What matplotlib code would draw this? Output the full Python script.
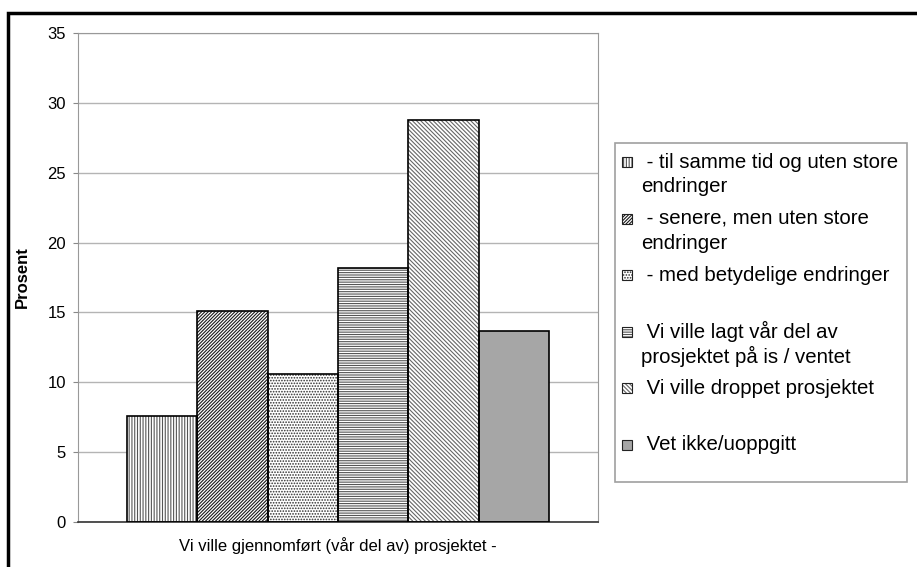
import matplotlib
matplotlib.use("Agg")
import matplotlib.pyplot as plt
from matplotlib.patches import Rectangle
import numpy as np

# Verdier lest av figuren (prosent)
kategorier = [
    " - til samme tid og uten store\nendringer",
    " - senere, men uten store\nendringer",
    " - med betydelige endringer",
    " Vi ville lagt vår del av\nprosjektet på is / ventet",
    " Vi ville droppet prosjektet",
    " Vet ikke/uoppgitt",
]
verdier = [7.6, 15.1, 10.6, 18.2, 28.8, 13.7]
y_ticks = [0, 5, 10, 15, 20, 25, 30, 35]
x_tittel = "Vi ville gjennomført (vår del av) prosjektet -"
y_tittel = "Prosent"

# Stil for hver stolpe
monstre = ["||||||", "//////////", "......", "-------", "\\\\\\\\\\\\\\\\", ""]
monsterfarger = ["#555555", "#1a1a1a", "#2e2e2e", "#555555", "#666666", "#a6a6a6"]
fyllfarger = ["white", "white", "white", "white", "white", "#a6a6a6"]

W, H = 917, 567
plt.rcParams["font.family"] = ["Liberation Sans", "DejaVu Sans"]
plt.rcParams["hatch.linewidth"] = 0.8


def px(x, y):
    """Piksel (fra øvre venstre hjørne) til figurkoordinater."""
    return x / W, 1 - y / H


fig = plt.figure(figsize=(W / 100, H / 100), dpi=100)
ax = fig.add_axes([78 / W, 1 - 522 / H, (598 - 78) / W, (522 - 33) / H])

x = np.arange(len(verdier))
# mønster først, så svart kant over
ax.bar(x, verdier, width=1.0, color=fyllfarger, edgecolor=monsterfarger,
       hatch=monstre, linewidth=0, zorder=2)
ax.bar(x, verdier, width=1.0, fill=False, edgecolor="black", linewidth=1.2, zorder=3)

ax.set_xlim(-0.5 - 0.698, len(verdier) - 0.5 + 0.698)
ax.set_ylim(0, 35)
ax.set_yticks(y_ticks)
ax.set_xticks([])
ax.tick_params(axis="y", direction="out", length=3.6, color="#888888",
               labelsize=12, pad=5)
ax.yaxis.grid(True, color="#b4b4b4", linewidth=1)
ax.set_axisbelow(True)
for side in ["left", "top", "right"]:
    ax.spines[side].set_color("#999999")
ax.spines["bottom"].set_color("#333333")
ax.spines["bottom"].set_linewidth(1.2)

ax.set_xlabel(x_tittel, fontsize=12, labelpad=11)
ax.set_ylabel(y_tittel, fontsize=12, fontweight="bold")
ax.yaxis.set_label_coords((30 - 78) / 520, 0.5)

# Forklaring tegnet for hånd, så håndtaket står ved første linje
lx0, ly0 = px(615, 143)
lx1, ly1 = px(907, 482)
fig.patches.append(Rectangle((lx0, ly1), lx1 - lx0, ly0 - ly1, transform=fig.transFigure,
                             fill=False, edgecolor="#a0a0a0", linewidth=1.2))
start, steg, linje = 162, 56.6, 25
for i, tekst in enumerate(kategorier):
    yc = start + i * steg
    hx, hy = px(622, yc + 5)
    fig.patches.append(Rectangle((hx, hy), 10 / W, 10 / H, transform=fig.transFigure,
                                 facecolor=fyllfarger[i], edgecolor=monsterfarger[i],
                                 hatch=monstre[i], linewidth=0))
    fig.patches.append(Rectangle((hx, hy), 10 / W, 10 / H, transform=fig.transFigure,
                                 fill=False, edgecolor="#222222", linewidth=0.8))
    for j, rad in enumerate(tekst.split("\n")):
        tx, ty = px(641, yc + j * linje)
        fig.text(tx, ty, rad, fontsize=14.7, va="center", ha="left", color="black")

# Ytre ramme (bare venstre og topp synes)
rx, ry = px(8, 13)
fig.patches.append(Rectangle((rx, -0.1), 1.2, ry + 0.1, transform=fig.transFigure,
                             fill=False, edgecolor="black", linewidth=2.5))

fig.savefig("out.png", dpi=100)
